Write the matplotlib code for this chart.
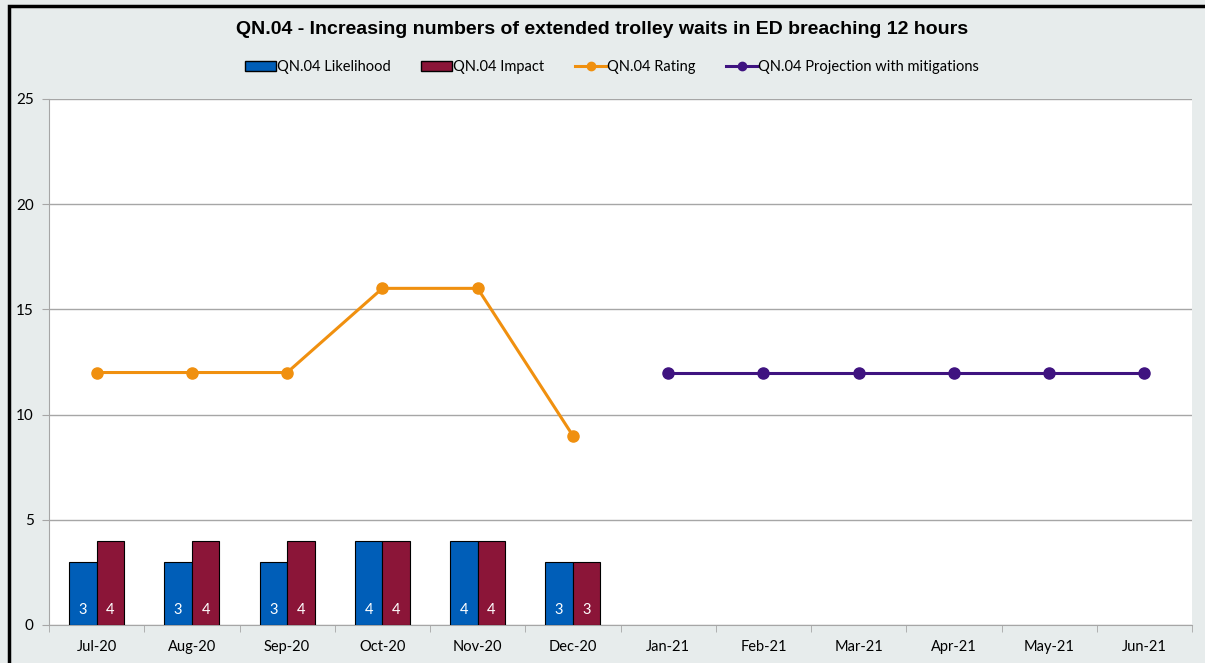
import matplotlib

matplotlib.use('agg')
import matplotlib.pyplot as plt
from matplotlib.lines import Line2D
from matplotlib.patches import Patch, Rectangle
import numpy as np

months = ['Jul-20', 'Aug-20', 'Sep-20', 'Oct-20', 'Nov-20', 'Dec-20',
          'Jan-21', 'Feb-21', 'Mar-21', 'Apr-21', 'May-21', 'Jun-21']
likelihood = [3, 3, 3, 4, 4, 3]
impact = [4, 4, 4, 4, 4, 3]
rating = [12, 12, 12, 16, 16, 9]
projection = [12, 12, 12, 12, 12, 12]

blue = '#005EB8'
red = '#8B1538'
orange = '#F0900F'
purple = '#3F1380'
bg = '#E7ECEC'

plt.rcParams['font.family'] = ['Lato', 'DejaVu Sans']

fig = plt.figure(figsize=(12.05, 6.63), dpi=100, facecolor=bg)
ax = fig.add_axes([49 / 1205, 1 - 625 / 663, (1192 - 49) / 1205, (625 - 99) / 663])
ax.set_facecolor('white')

# frame round the chart
fig.patches.append(Rectangle((9 / 1205, -0.1), 1.2, 1 - 6 / 663 + 0.1, transform=fig.transFigure,
                             fill=False, edgecolor='black', linewidth=2.5))

x = np.arange(len(months))
w = 0.29
n = len(likelihood)
ax.bar(x[:n] - w / 2, likelihood, w, color=blue, edgecolor='black', linewidth=0.8, zorder=3)
ax.bar(x[:n] + w / 2, impact, w, color=red, edgecolor='black', linewidth=0.8, zorder=3)
for i in range(n):
    ax.text(x[i] - w / 2, 0.72, str(likelihood[i]), color='white', ha='center', va='center',
            fontsize=10.5, zorder=4)
    ax.text(x[i] + w / 2, 0.72, str(impact[i]), color='white', ha='center', va='center',
            fontsize=10.5, zorder=4)

ax.plot(x[:len(rating)], rating, color=orange, linewidth=2.2, marker='o', markersize=8, zorder=5)
ax.plot(x[6:6 + len(projection)], projection, color=purple, linewidth=2.2, marker='o',
        markersize=8, markerfacecolor=purple, zorder=5)

ax.set_xlim(-0.5, len(months) - 0.5)
ax.set_ylim(0, 25)
ax.set_yticks([0, 5, 10, 15, 20, 25])
ax.yaxis.grid(True, color='#A6A6A6', linewidth=1)
ax.set_axisbelow(True)
ax.set_xticks(x)
ax.set_xticklabels(months, fontsize=10.5)
ax.set_xticks(np.arange(-0.5, len(months)), minor=True)
ax.tick_params(axis='x', which='major', length=0, pad=11)
ax.tick_params(axis='x', which='minor', length=5, color='#A6A6A6', direction='out')
ax.tick_params(axis='y', length=5, color='#A6A6A6', labelsize=11, pad=6)
for s in ['top', 'right']:
    ax.spines[s].set_visible(False)
for s in ['left', 'bottom']:
    ax.spines[s].set_color('#A6A6A6')

fig.text(0.5, 1 - 30 / 663, 'QN.04 - Increasing numbers of extended trolley waits in ED breaching 12 hours',
         ha='center', va='center', fontsize=14, fontweight='bold', family='Liberation Sans')

handles = [Patch(facecolor=blue, edgecolor='black'),
           Patch(facecolor=red, edgecolor='black'),
           Line2D([], [], color=orange, linewidth=2.2, marker='o', markersize=6),
           Line2D([], [], color=purple, linewidth=2.2, marker='o', markersize=6)]
labels = ['QN.04 Likelihood', 'QN.04 Impact', 'QN.04 Rating', 'QN.04 Projection with mitigations']
fig.legend(handles, labels, loc='center', bbox_to_anchor=(0.508, 1 - 67 / 663), ncol=4,
           frameon=False, fontsize=10.5, handlelength=2.1, handleheight=0.7, handletextpad=0.1,
           columnspacing=2.1)

fig.savefig('out.png', dpi=100, facecolor=bg)
